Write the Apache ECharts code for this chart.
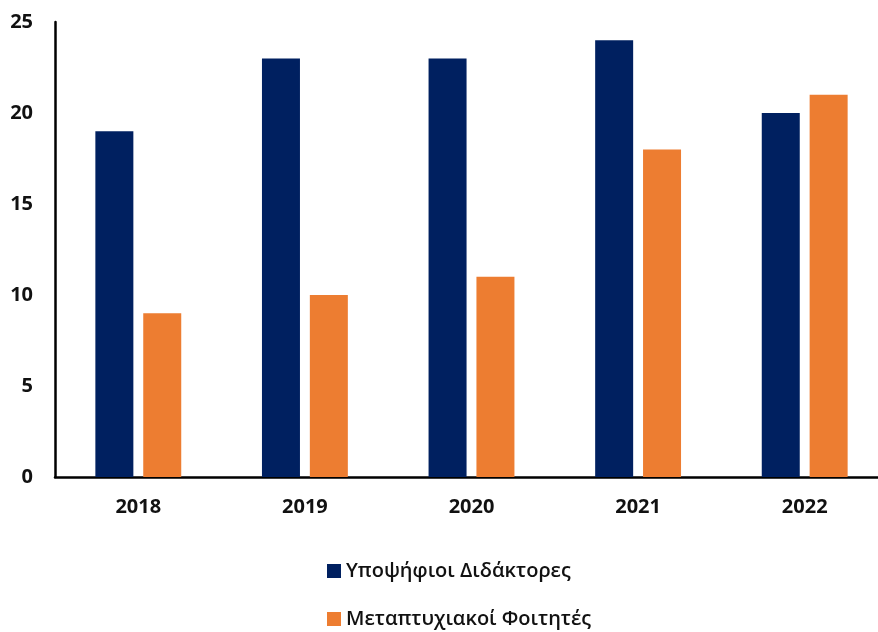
<!DOCTYPE html>
<html>
<head>
<meta charset="utf-8">
<script src="https://cdn.jsdelivr.net/npm/echarts@6/dist/echarts.min.js"></script>
<style>
  html, body { margin: 0; padding: 0; background: #fff; }
  #chart { width: 878px; height: 632px; }
</style>
</head>
<body>
<div id="chart"></div>
<script>
// Yearly counts of doctoral candidates and postgraduate students
const years = ['2018', '2019', '2020', '2021', '2022'];
const doctoralCandidates = [19, 23, 23, 24, 20];
const postgraduateStudents = [9, 10, 11, 18, 21];
const seriesNames = ['Υποψήφιοι Διδάκτορες', 'Μεταπτυχιακοί Φοιτητές'];
const yTicks = { min: 0, max: 25, interval: 5 };

const chart = echarts.init(document.getElementById('chart'));
const fontFamily = '"Open Sans", "Noto Sans", sans-serif';

// one legend block per series, stacked vertically under the plot
const legendBlock = (name, top) => ({
  left: 322,
  top,
  itemWidth: 14,
  itemHeight: 14,
  itemGap: 0,
  icon: 'rect',
  textStyle: { fontFamily, fontSize: 20, fontWeight: 600, color: '#111' },
  data: [name]
});

chart.setOption({
  animation: false,
  grid: {
    left: 55, right: -10, top: 22, bottom: 155,
    containLabel: false,
    outerBoundsMode: 'none'
  },
  legend: [
    legendBlock(seriesNames[0], 556),
    legendBlock(seriesNames[1], 604)
  ],
  xAxis: {
    type: 'category',
    data: years,
    axisLine: { lineStyle: { color: '#000', width: 2.5 } },
    axisTick: { show: false },
    axisLabel: { fontFamily, fontSize: 20, fontWeight: 'bold', color: '#111', margin: 20 }
  },
  yAxis: {
    type: 'value',
    min: yTicks.min,
    max: yTicks.max,
    interval: yTicks.interval,
    axisLine: { show: true, lineStyle: { color: '#000', width: 2.5 } },
    axisTick: { show: false },
    splitLine: { show: false },
    axisLabel: { fontFamily, fontSize: 20, fontWeight: 'bold', color: '#111', margin: 22 }
  },
  series: [
    {
      name: seriesNames[0],
      type: 'bar',
      data: doctoralCandidates,
      barWidth: 38,
      barGap: '26%',
      itemStyle: { color: '#002060' }
    },
    {
      name: seriesNames[1],
      type: 'bar',
      data: postgraduateStudents,
      barWidth: 38,
      itemStyle: { color: '#ED7D31' }
    }
  ]
});
</script>
</body>
</html>
